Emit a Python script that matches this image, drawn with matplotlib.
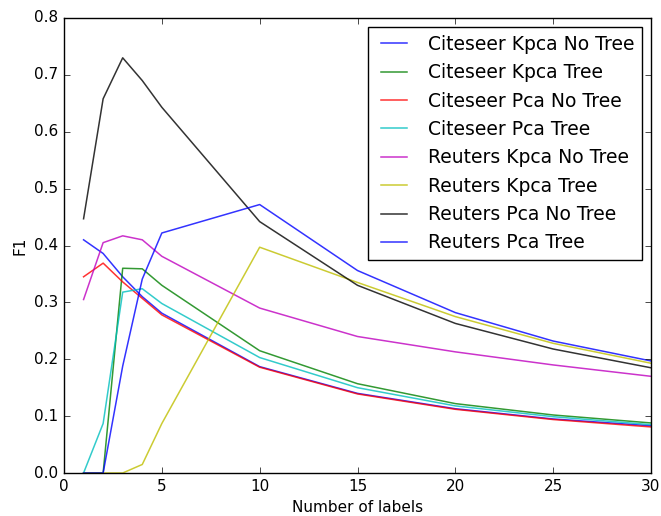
import numpy as np
import matplotlib
matplotlib.use("Agg")
import matplotlib.pyplot as plt

plt.style.use('classic')

n_labels = [1, 2, 3, 4, 5, 10, 15, 20, 25, 30]

citeseer_kpca_no_tree = [0.41, 0.386, 0.345, 0.31, 0.281, 0.187, 0.14, 0.113, 0.095, 0.083]
citeseer_kpca_tree = [0.0, 0.0, 0.36, 0.359, 0.33, 0.215, 0.157, 0.122, 0.102, 0.088]
citeseer_pca_no_tree = [0.345, 0.369, 0.336, 0.307, 0.278, 0.186, 0.139, 0.112, 0.094, 0.081]
citeseer_pca_tree = [0.0, 0.087, 0.318, 0.324, 0.298, 0.203, 0.15, 0.118, 0.099, 0.085]
reuters_kpca_no_tree = [0.305, 0.405, 0.417, 0.41, 0.381, 0.29, 0.24, 0.213, 0.19, 0.17]
reuters_kpca_tree = [0.0, 0.0, 0.0, 0.015, 0.087, 0.397, 0.335, 0.275, 0.228, 0.193]
reuters_pca_no_tree = [0.447, 0.658, 0.73, 0.69, 0.643, 0.442, 0.33, 0.263, 0.218, 0.185]
reuters_pca_tree = [0.0, 0.0, 0.188, 0.341, 0.422, 0.472, 0.356, 0.282, 0.232, 0.197]

series = [
    ("Citeseer Kpca No Tree", citeseer_kpca_no_tree, 'b'),
    ("Citeseer Kpca Tree", citeseer_kpca_tree, 'g'),
    ("Citeseer Pca No Tree", citeseer_pca_no_tree, 'r'),
    ("Citeseer Pca Tree", citeseer_pca_tree, 'c'),
    ("Reuters Kpca No Tree", reuters_kpca_no_tree, 'm'),
    ("Reuters Kpca Tree", reuters_kpca_tree, 'y'),
    ("Reuters Pca No Tree", reuters_pca_no_tree, 'k'),
    ("Reuters Pca Tree", reuters_pca_tree, 'b'),
]

fig = plt.figure(figsize=(6.61, 5.16), dpi=100, facecolor='white')
ax = fig.add_axes([64 / 661, 1 - 473 / 516, 587 / 661, 455 / 516])

for name, vals, c in series:
    ax.plot(n_labels, vals, color=c, label=name, alpha=0.8, lw=1.1)

ax.set_xlim(0, 30)
ax.set_ylim(0, 0.8)
ax.set_xlabel("Number of labels", fontsize=11)
ax.set_ylabel("F1", fontsize=11)
ax.tick_params(labelsize=11)
ax.legend(loc='upper right', fontsize=13.5)

fig.savefig("out.png", dpi=100, facecolor='white')
